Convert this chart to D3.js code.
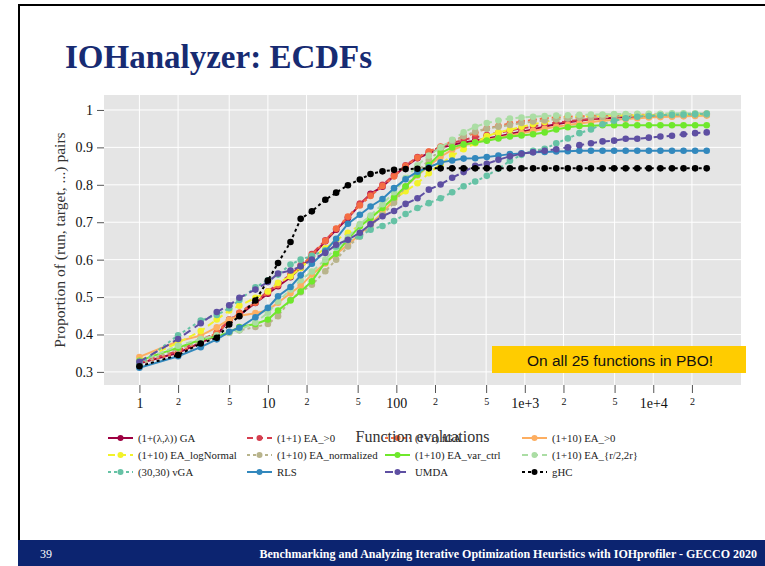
<!DOCTYPE html>
<html>
<head>
<meta charset="utf-8">
<script src="https://cdn.jsdelivr.net/npm/d3@7/dist/d3.min.js"></script>
<style>
  body { margin: 0; background: #fff; }
  svg text { font-family: "Liberation Serif", "Times New Roman", serif; }
</style>
</head>
<body>
<div id="chart-area"></div>
<script>
// x: function evaluations where the ECDF was sampled
var evals = [1, 2, 3, 4, 5, 6, 8, 10, 12, 15, 18, 22, 28, 34, 42, 52, 63, 78, 96, 118,
    146, 179, 221, 272, 334, 411, 506, 623, 766, 943, 1160, 1428, 1757, 2162, 2661,
    3274, 4029, 4958, 6101, 7507, 9238, 11368, 13989, 17214, 21182, 26066];

// y: proportion of (run, target, ...) pairs, one array per algorithm
var ga = [0.323, 0.351, 0.378, 0.398, 0.440, 0.452, 0.484, 0.509, 0.529, 0.553, 0.578, 0.609,
    0.649, 0.680, 0.711, 0.747, 0.776, 0.795, 0.824, 0.849, 0.871, 0.884, 0.898, 0.907, 0.913,
    0.918, 0.924, 0.929, 0.936, 0.942, 0.948, 0.956, 0.962, 0.967, 0.971, 0.975, 0.977, 0.979,
    0.981, 0.982, 0.983, 0.984, 0.985, 0.986, 0.987, 0.988];
var ea11 = [0.325, 0.356, 0.385, 0.405, 0.438, 0.458, 0.488, 0.515, 0.535, 0.560, 0.585, 0.615,
    0.652, 0.682, 0.713, 0.750, 0.773, 0.800, 0.826, 0.852, 0.874, 0.888, 0.901, 0.912, 0.920,
    0.927, 0.933, 0.939, 0.945, 0.951, 0.956, 0.961, 0.966, 0.970, 0.973, 0.976, 0.978, 0.980,
    0.982, 0.983, 0.984, 0.985, 0.986, 0.987, 0.988, 0.989];
var fga = [0.322, 0.352, 0.380, 0.405, 0.435, 0.458, 0.485, 0.512, 0.532, 0.558, 0.582, 0.612,
    0.650, 0.683, 0.715, 0.745, 0.770, 0.797, 0.822, 0.850, 0.872, 0.889, 0.902, 0.916, 0.929,
    0.938, 0.951, 0.957, 0.964, 0.969, 0.973, 0.978, 0.980, 0.982, 0.983, 0.984, 0.985, 0.986,
    0.986, 0.987, 0.987, 0.988, 0.988, 0.989, 0.989, 0.990];
var ea10 = [0.340, 0.382, 0.397, 0.419, 0.440, 0.450, 0.457, 0.465, 0.485, 0.510, 0.530, 0.560,
    0.590, 0.615, 0.640, 0.668, 0.695, 0.725, 0.760, 0.795, 0.825, 0.850, 0.875, 0.893, 0.905,
    0.913, 0.920, 0.926, 0.932, 0.938, 0.944, 0.950, 0.955, 0.960, 0.964, 0.968, 0.971, 0.974,
    0.976, 0.978, 0.980, 0.981, 0.982, 0.983, 0.984, 0.985];
var logNormal = [0.330, 0.378, 0.409, 0.440, 0.464, 0.477, 0.498, 0.515, 0.538, 0.555, 0.578, 0.605,
    0.630, 0.652, 0.672, 0.692, 0.712, 0.737, 0.762, 0.783, 0.804, 0.831, 0.855, 0.878, 0.895,
    0.911, 0.930, 0.940, 0.947, 0.955, 0.962, 0.968, 0.975, 0.980, 0.982, 0.983, 0.984, 0.985,
    0.985, 0.986, 0.986, 0.987, 0.987, 0.988, 0.988, 0.988];
var normalized = [0.320, 0.362, 0.380, 0.392, 0.404, 0.411, 0.420, 0.428, 0.449, 0.493, 0.513, 0.533,
    0.569, 0.600, 0.635, 0.662, 0.690, 0.720, 0.752, 0.795, 0.835, 0.866, 0.893, 0.913, 0.930,
    0.942, 0.950, 0.955, 0.960, 0.965, 0.969, 0.972, 0.975, 0.977, 0.979, 0.980, 0.981, 0.982,
    0.983, 0.984, 0.985, 0.985, 0.986, 0.986, 0.987, 0.987];
var varCtrl = [0.330, 0.365, 0.386, 0.395, 0.406, 0.420, 0.428, 0.440, 0.464, 0.491, 0.515, 0.542,
    0.593, 0.616, 0.655, 0.689, 0.711, 0.738, 0.766, 0.796, 0.827, 0.853, 0.885, 0.900, 0.908,
    0.913, 0.918, 0.924, 0.929, 0.932, 0.935, 0.940, 0.948, 0.954, 0.957, 0.958, 0.959, 0.959,
    0.959, 0.959, 0.959, 0.959, 0.959, 0.959, 0.959, 0.959];
var halfDouble = [0.328, 0.370, 0.388, 0.398, 0.405, 0.412, 0.432, 0.458, 0.488, 0.520, 0.545, 0.568,
    0.600, 0.632, 0.660, 0.695, 0.718, 0.748, 0.780, 0.818, 0.852, 0.878, 0.900, 0.920, 0.940,
    0.955, 0.965, 0.972, 0.977, 0.980, 0.982, 0.984, 0.985, 0.986, 0.987, 0.988, 0.988, 0.989,
    0.989, 0.990, 0.990, 0.990, 0.991, 0.991, 0.991, 0.991];
var vga = [0.320, 0.398, 0.437, 0.452, 0.470, 0.492, 0.526, 0.545, 0.560, 0.587, 0.600, 0.610,
    0.625, 0.635, 0.652, 0.662, 0.680, 0.690, 0.703, 0.722, 0.738, 0.751, 0.764, 0.780, 0.796,
    0.809, 0.824, 0.843, 0.864, 0.880, 0.891, 0.896, 0.911, 0.924, 0.938, 0.948, 0.962, 0.971,
    0.978, 0.982, 0.984, 0.986, 0.987, 0.988, 0.989, 0.990];
var rls = [0.311, 0.342, 0.366, 0.387, 0.407, 0.418, 0.446, 0.471, 0.502, 0.527, 0.558, 0.589,
    0.622, 0.656, 0.696, 0.720, 0.742, 0.762, 0.791, 0.815, 0.835, 0.847, 0.860, 0.865, 0.870,
    0.871, 0.874, 0.878, 0.882, 0.884, 0.887, 0.888, 0.889, 0.890, 0.891, 0.891, 0.891, 0.891,
    0.891, 0.891, 0.891, 0.891, 0.891, 0.891, 0.891, 0.891];
var umda = [0.327, 0.388, 0.430, 0.460, 0.478, 0.498, 0.520, 0.540, 0.563, 0.571, 0.582, 0.600,
    0.618, 0.640, 0.653, 0.672, 0.695, 0.716, 0.730, 0.749, 0.764, 0.787, 0.801, 0.819, 0.834,
    0.851, 0.856, 0.867, 0.876, 0.883, 0.887, 0.891, 0.895, 0.900, 0.906, 0.911, 0.916, 0.918,
    0.923, 0.923, 0.926, 0.929, 0.931, 0.935, 0.938, 0.940];
var ghc = [0.315, 0.345, 0.376, 0.391, 0.427, 0.449, 0.491, 0.544, 0.591, 0.647, 0.709, 0.729,
    0.760, 0.779, 0.799, 0.814, 0.829, 0.836, 0.840, 0.842, 0.843, 0.844, 0.844, 0.844, 0.844,
    0.844, 0.844, 0.844, 0.844, 0.844, 0.844, 0.844, 0.844, 0.844, 0.844, 0.844, 0.844, 0.844,
    0.844, 0.844, 0.844, 0.844, 0.844, 0.844, 0.844, 0.844];

var algorithms = ["(1+(\u03bb,\u03bb)) GA", "(1+1) EA_>0", "(1+1) fGA", "(1+10) EA_>0",
    "(1+10) EA_logNormal", "(1+10) EA_normalized", "(1+10) EA_var_ctrl", "(1+10) EA_{r/2,2r}",
    "(30,30) vGA", "RLS", "UMDA", "gHC"];
var values = [ga, ea11, fga, ea10, logNormal, normalized, varCtrl, halfDouble, vga, rls, umda, ghc];

var xTicks = [1, 2, 5, 10, 20, 50, 100, 200, 500, 1000, 2000, 5000, 10000, 20000];
var xTickLabels = ["1", "2", "5", "10", "2", "5", "100", "2", "5", "1e+3", "2", "5", "1e+4", "2"];
var yTicks = [0.3, 0.4, 0.5, 0.6, 0.7, 0.8, 0.9, 1];

// styles
var colors = ["#9e0142", "#d53e4f", "#f46d43", "#fdae61", "#f2f22a", "#b8b48c",
    "#6fe82c", "#abdda4", "#66c2a5", "#3288bd", "#5e4fa2", "#000000"];
var dashes = [null, "6,4", "3,3", null, "7,4", "3,3", null, "6,4", "3,3", null, "8,5", "3,3"];

var svg = d3.select("#chart-area")
    .append("svg")
    .attr("width", 765)
    .attr("height", 566);

// slide frame
svg.append("rect").attr("width", 765).attr("height", 566).attr("fill", "#fff");
svg.append("line").attr("x1", 18).attr("x2", 765).attr("y1", 5).attr("y2", 5)
    .attr("stroke", "#000").attr("stroke-width", 2);
svg.append("line").attr("x1", 19).attr("x2", 19).attr("y1", 4).attr("y2", 540)
    .attr("stroke", "#000").attr("stroke-width", 2);
svg.append("rect").attr("x", 18).attr("y", 540).attr("width", 747).attr("height", 26)
    .attr("fill", "#0c2470");
svg.append("text").attr("x", 40).attr("y", 558).attr("fill", "#fff")
    .attr("font-size", "12px").text("39");
svg.append("text").attr("x", 757).attr("y", 558).attr("fill", "#fff")
    .attr("font-size", "12px").attr("font-weight", "bold").attr("text-anchor", "end")
    .text("Benchmarking and Analyzing Iterative Optimization Heuristics with IOHprofiler - GECCO 2020");

svg.append("text").attr("x", 65).attr("y", 68)
    .attr("font-size", "33px").attr("font-weight", "bold").attr("fill", "#172b72")
    .text("IOHanalyzer: ECDFs");

// plot panel
var panel = { left: 104, right: 741, top: 95, bottom: 385 };

var x = d3.scaleLog().domain([0.53, 48200]).range([panel.left, panel.right]);
var y = d3.scaleLinear().domain([0.265, 1.04]).range([panel.bottom, panel.top]);

svg.append("rect").attr("x", panel.left).attr("y", panel.top)
    .attr("width", panel.right - panel.left).attr("height", panel.bottom - panel.top)
    .attr("fill", "#e5e5e5");

// grid
svg.append("g").selectAll("line").data(xTicks).enter().append("line")
    .attr("x1", function(d){ return x(d); }).attr("x2", function(d){ return x(d); })
    .attr("y1", panel.top).attr("y2", panel.bottom)
    .attr("stroke", "#fff").attr("stroke-width", 1);
svg.append("g").selectAll("line").data(yTicks).enter().append("line")
    .attr("x1", panel.left).attr("x2", panel.right)
    .attr("y1", function(d){ return y(d); }).attr("y2", function(d){ return y(d); })
    .attr("stroke", "#fff").attr("stroke-width", 1);

// X Axis
var xAxisCall = d3.axisBottom(x)
    .tickValues(xTicks)
    .tickSize(8)
    .tickSizeOuter(0)
    .tickPadding(5)
    .tickFormat(function(d, i){ return xTickLabels[i]; });
var xAxis = svg.append("g")
    .attr("transform", "translate(0," + panel.bottom + ")")
    .call(xAxisCall);
xAxis.select(".domain").remove();
xAxis.selectAll("line").attr("stroke", "#555");
xAxis.selectAll("text")
    .attr("fill", "#111")
    .attr("font-size", function(d, i){ return xTickLabels[i].length > 1 || d === 1 ? "14px" : "10px"; })
    .style("font-family", "'Liberation Serif', serif");

// Y Axis
var yAxisCall = d3.axisLeft(y)
    .tickValues(yTicks)
    .tickSize(7)
    .tickSizeOuter(0)
    .tickPadding(4)
    .tickFormat(function(d){ return d === 1 ? "1" : d3.format(".1f")(d); });
var yAxis = svg.append("g")
    .attr("transform", "translate(" + panel.left + ",0)")
    .call(yAxisCall);
yAxis.select(".domain").remove();
yAxis.selectAll("line").attr("stroke", "#555");
yAxis.selectAll("text").attr("fill", "#111").attr("font-size", "14px")
    .style("font-family", "'Liberation Serif', serif");

svg.append("text")
    .attr("transform", "translate(65," + ((panel.top + panel.bottom) / 2) + ") rotate(-90)")
    .attr("text-anchor", "middle")
    .attr("font-size", "15.6px")
    .attr("fill", "#333")
    .text("Proportion of (run, target, ...) pairs");

// series
var line = d3.line()
    .x(function(d){ return x(d[0]); })
    .y(function(d){ return y(d[1]); });

values.forEach(function(vals, k){
    var pts = evals.map(function(e, i){ return [e, vals[i]]; });
    var g = svg.append("g");
    g.append("path")
        .attr("d", line(pts))
        .attr("fill", "none")
        .attr("stroke", colors[k])
        .attr("stroke-width", 2)
        .attr("stroke-dasharray", dashes[k]);
    g.selectAll("circle").data(pts).enter().append("circle")
        .attr("cx", function(d){ return x(d[0]); })
        .attr("cy", function(d){ return y(d[1]); })
        .attr("r", 3.3)
        .attr("fill", colors[k]);
});

// annotation
svg.append("rect").attr("x", 492).attr("y", 346).attr("width", 254).attr("height", 27)
    .attr("fill", "#ffcc00");
svg.append("text").attr("x", 620).attr("y", 366)
    .attr("text-anchor", "middle")
    .attr("font-size", "15.5px")
    .style("font-family", "'Liberation Sans', Arial, sans-serif")
    .attr("fill", "#111")
    .text("On all 25 functions in PBO!");

// legend
var legX = [108, 247, 385, 522], legY = [438, 455, 472];
var legend = svg.append("g");
algorithms.forEach(function(name, k){
    var lx = legX[k % 4], ly = legY[Math.floor(k / 4)];
    var item = legend.append("g").attr("transform", "translate(" + lx + "," + ly + ")");
    item.append("line").attr("x1", 0).attr("x2", 25).attr("y1", 0).attr("y2", 0)
        .attr("stroke", colors[k]).attr("stroke-width", 2)
        .attr("stroke-dasharray", dashes[k]);
    item.append("circle").attr("cx", 12.5).attr("cy", 0).attr("r", 3).attr("fill", colors[k]);
    item.append("text").attr("x", 30).attr("y", 0).attr("dy", "0.35em")
        .attr("font-size", "10.8px").attr("fill", "#222").text(name);
});

// x label drawn last: it sits over the legend like in the original
svg.append("text")
    .attr("x", (panel.left + panel.right) / 2)
    .attr("y", 442)
    .attr("text-anchor", "middle")
    .attr("font-size", "16px")
    .attr("fill", "#333")
    .text("Function evaluations");
</script>
</body>
</html>
